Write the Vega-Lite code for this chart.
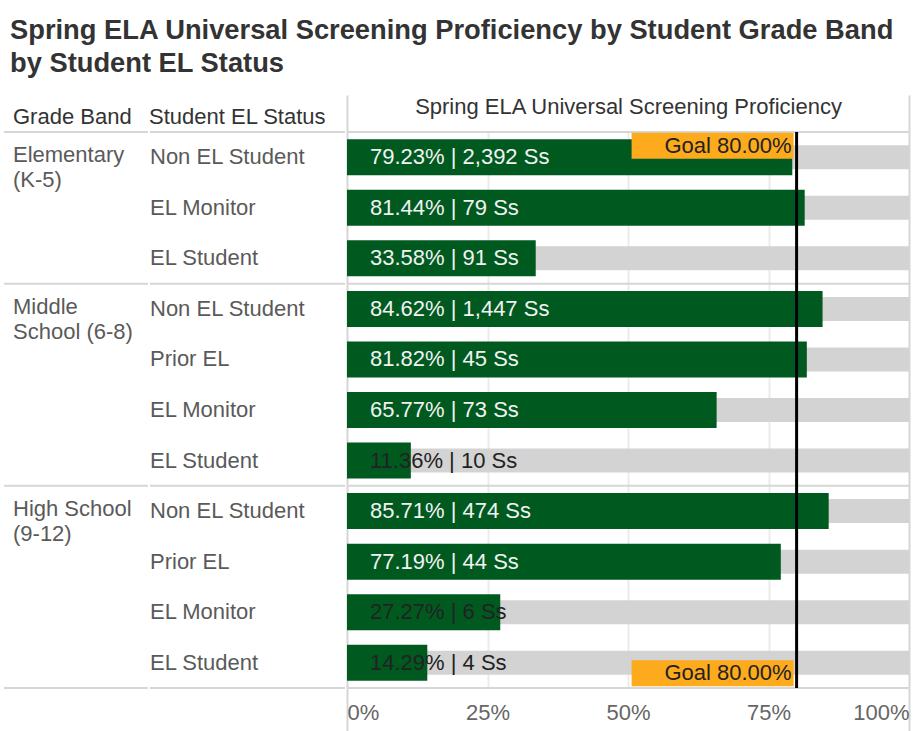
{
  "$schema": "https://vega.github.io/schema/vega-lite/v6.json",
  "padding": {"left": 3, "top": 16, "right": 4, "bottom": 0},
  "background": "white",
  "config": {
    "font": "Liberation Sans",
    "view": {"stroke": null},
    "title": {"font": "Liberation Sans"},
    "axis": {"labelFont": "Liberation Sans", "titleFont": "Liberation Sans"}
  },
  "title": {
    "text": ["Spring ELA Universal Screening Proficiency by Student Grade Band", "by Student EL Status"],
    "anchor": "start",
    "frame": "group",
    "fontSize": 27.3,
    "fontWeight": "bold",
    "color": "#333333",
    "lineHeight": 33,
    "offset": 17,
    "dx": 6
  },
  "data": {
    "values": [
      {"row": 1, "band": "Elementary\n(K-5)", "status": "Non EL Student", "pct": 0.7923, "n": 2392, "label": "79.23% | 2,392 Ss"},
      {"row": 2, "band": "Elementary\n(K-5)", "status": "EL Monitor", "pct": 0.8144, "n": 79, "label": "81.44% | 79 Ss"},
      {"row": 3, "band": "Elementary\n(K-5)", "status": "EL Student", "pct": 0.3358, "n": 91, "label": "33.58% | 91 Ss"},
      {"row": 4, "band": "Middle\nSchool (6-8)", "status": "Non EL Student", "pct": 0.8462, "n": 1447, "label": "84.62% | 1,447 Ss"},
      {"row": 5, "band": "Middle\nSchool (6-8)", "status": "Prior EL", "pct": 0.8182, "n": 45, "label": "81.82% | 45 Ss"},
      {"row": 6, "band": "Middle\nSchool (6-8)", "status": "EL Monitor", "pct": 0.6577, "n": 73, "label": "65.77% | 73 Ss"},
      {"row": 7, "band": "Middle\nSchool (6-8)", "status": "EL Student", "pct": 0.1136, "n": 10, "label": "11.36% | 10 Ss"},
      {"row": 8, "band": "High School\n(9-12)", "status": "Non EL Student", "pct": 0.8571, "n": 474, "label": "85.71% | 474 Ss"},
      {"row": 9, "band": "High School\n(9-12)", "status": "Prior EL", "pct": 0.7719, "n": 44, "label": "77.19% | 44 Ss"},
      {"row": 10, "band": "High School\n(9-12)", "status": "EL Monitor", "pct": 0.2727, "n": 6, "label": "27.27% | 6 Ss"},
      {"row": 11, "band": "High School\n(9-12)", "status": "EL Student", "pct": 0.1429, "n": 4, "label": "14.29% | 4 Ss"}
    ]
  },
  "spacing": 0,
  "hconcat": [
    {
      "width": 144,
      "height": 556,
      "title": {"text": "Grade Band", "anchor": "start", "fontSize": 22, "fontWeight": "normal", "color": "#333333", "offset": 2, "dx": 10},
      "layer": [
        {
          "mark": {"type": "rule", "color": "#d6d6d6", "strokeWidth": 2},
          "transform": [{"filter": "datum.status == 'Non EL Student'"}],
          "encoding": {"y": {"field": "row", "type": "ordinal", "bandPosition": 0, "axis": null, "scale": {"domain": [1,2,3,4,5,6,7,8,9,10,11], "paddingInner": 0, "paddingOuter": 0}}}
        },
        {
          "mark": {"type": "rule", "color": "#d6d6d6", "strokeWidth": 2},
          "transform": [{"filter": "datum.row == 11"}],
          "encoding": {"y": {"field": "row", "type": "ordinal", "bandPosition": 1, "axis": null, "scale": {"domain": [1,2,3,4,5,6,7,8,9,10,11], "paddingInner": 0, "paddingOuter": 0}}}
        },
        {
          "mark": {"type": "text", "align": "left", "baseline": "top", "dx": 9, "dy": -12, "lineBreak": "\n", "lineHeight": 25, "fontSize": 22, "color": "#5a5a5a"},
          "transform": [{"filter": "datum.status == 'Non EL Student'"}],
          "encoding": {
            "y": {"field": "row", "type": "ordinal", "axis": null, "scale": {"domain": [1,2,3,4,5,6,7,8,9,10,11], "paddingInner": 0, "paddingOuter": 0}},
            "x": {"value": 0},
            "text": {"field": "band"}
          }
        }
      ]
    },
    {
      "width": 195,
      "height": 556,
      "title": {"text": "Student EL Status", "anchor": "start", "fontSize": 22, "fontWeight": "normal", "color": "#333333", "offset": 2},
      "layer": [
        {
          "mark": {"type": "rule", "color": "#d6d6d6", "strokeWidth": 2},
          "transform": [{"filter": "datum.status == 'Non EL Student'"}],
          "encoding": {"y": {"field": "row", "type": "ordinal", "bandPosition": 0, "axis": null, "scale": {"domain": [1,2,3,4,5,6,7,8,9,10,11], "paddingInner": 0, "paddingOuter": 0}}}
        },
        {
          "mark": {"type": "rule", "color": "#d6d6d6", "strokeWidth": 2},
          "transform": [{"filter": "datum.row == 11"}],
          "encoding": {"y": {"field": "row", "type": "ordinal", "bandPosition": 1, "axis": null, "scale": {"domain": [1,2,3,4,5,6,7,8,9,10,11], "paddingInner": 0, "paddingOuter": 0}}}
        },
        {
          "mark": {"type": "text", "align": "left", "baseline": "middle", "fontSize": 22, "color": "#5a5a5a"},
          "encoding": {
            "y": {"field": "row", "type": "ordinal", "axis": null, "scale": {"domain": [1,2,3,4,5,6,7,8,9,10,11], "paddingInner": 0, "paddingOuter": 0}},
            "x": {"value": 0},
            "text": {"field": "status"}
          }
        }
      ]
    },
    {
      "width": 562,
      "height": 556,
      "resolve": {"axis": {"x": "independent"}},
      "layer": [
        {
          "mark": {"type": "rule", "color": "#d6d6d6", "strokeWidth": 2},
          "transform": [{"filter": "datum.status == 'Non EL Student'"}],
          "encoding": {"y": {"field": "row", "type": "ordinal", "bandPosition": 0, "axis": null, "scale": {"domain": [1,2,3,4,5,6,7,8,9,10,11], "paddingInner": 0, "paddingOuter": 0}}}
        },
        {
          "mark": {"type": "rule", "color": "#d6d6d6", "strokeWidth": 2},
          "transform": [{"filter": "datum.row == 11"}],
          "encoding": {"y": {"field": "row", "type": "ordinal", "bandPosition": 1, "axis": null, "scale": {"domain": [1,2,3,4,5,6,7,8,9,10,11], "paddingInner": 0, "paddingOuter": 0}}}
        },
        {
          "mark": {"type": "bar", "color": "#d3d3d3", "height": 24},
          "encoding": {
            "y": {"field": "row", "type": "ordinal", "axis": null, "scale": {"domain": [1,2,3,4,5,6,7,8,9,10,11], "paddingInner": 0, "paddingOuter": 0}},
            "x": {
              "datum": 1,
              "type": "quantitative",
              "scale": {"domain": [0, 1], "nice": false},
              "axis": {
                "orient": "top",
                "values": [0, 1],
                "labels": false,
                "grid": false,
                "domain": false,
                "ticks": true,
                "tickSize": 37,
                "tickWidth": 2,
                "tickColor": "#d6d6d6",
                "title": "Spring ELA Universal Screening Proficiency",
                "titleFontSize": 22,
                "titleFontWeight": "normal",
                "titleColor": "#333333",
                "titleY": -26,
                "titleBaseline": "middle"
              }
            },
            "x2": {"datum": 0}
          }
        },
        {
          "mark": {"type": "bar", "color": "#005a20", "height": 36},
          "encoding": {
            "y": {"field": "row", "type": "ordinal", "axis": null, "scale": {"domain": [1,2,3,4,5,6,7,8,9,10,11], "paddingInner": 0, "paddingOuter": 0}},
            "x": {
              "field": "pct",
              "type": "quantitative",
              "scale": {"domain": [0, 1], "nice": false},
              "axis": {
                "orient": "bottom",
                "values": [0, 0.25, 0.5, 0.75, 1],
                "format": ".0%",
                "labelFlush": true,
                "labelFontSize": 22,
                "labelColor": "#666666",
                "domain": false,
                "grid": true,
                "gridWidth": 2,
                "gridColor": {"condition": {"test": "datum.value == 0 || datum.value == 1", "value": "#d6d6d6"}, "value": "#ececec"},
                "tickColor": {"condition": {"test": "datum.value == 0 || datum.value == 1", "value": "#d6d6d6"}, "value": "transparent"},
                "tickWidth": 2,
                "tickSize": 43,
                "labelPadding": -29,
                "title": null
              }
            }
          }
        },
        {
          "mark": {"type": "text", "align": "left", "baseline": "middle", "fontSize": 22, "dx": 23},
          "encoding": {
            "y": {"field": "row", "type": "ordinal", "axis": null, "scale": {"domain": [1,2,3,4,5,6,7,8,9,10,11], "paddingInner": 0, "paddingOuter": 0}},
            "x": {"datum": 0, "type": "quantitative", "axis": null},
            "text": {"field": "label"},
            "color": {"condition": {"test": "datum.pct < 0.3", "value": "#222222"}, "value": "#f2f2f2"}
          }
        },
        {
          "data": {"values": [{"goal": 0.8}]},
          "mark": {"type": "rule", "color": "#000000", "strokeWidth": 3},
          "encoding": {"x": {"field": "goal", "type": "quantitative", "axis": null}}
        },
        {
          "data": {"values": [{"goal": 0.8, "goal_label": "Goal 80.00%", "row": 1}]},
          "mark": {"type": "rect", "color": "#fdaa1c", "height": 26, "xOffset": -165, "x2Offset": -3, "yOffset": -11.5},
          "encoding": {
            "y": {"field": "row", "type": "ordinal", "axis": null, "scale": {"domain": [1,2,3,4,5,6,7,8,9,10,11], "paddingInner": 0, "paddingOuter": 0}},
            "x": {"field": "goal", "type": "quantitative", "axis": null},
            "x2": {"field": "goal"}
          }
        },
        {
          "data": {"values": [{"goal": 0.8, "goal_label": "Goal 80.00%", "row": 1}]},
          "mark": {"type": "text", "align": "right", "baseline": "middle", "fontSize": 22, "color": "#222222", "dx": -5, "dy": -11.5},
          "encoding": {
            "y": {"field": "row", "type": "ordinal", "axis": null, "scale": {"domain": [1,2,3,4,5,6,7,8,9,10,11], "paddingInner": 0, "paddingOuter": 0}},
            "x": {"field": "goal", "type": "quantitative", "axis": null},
            "text": {"field": "goal_label"}
          }
        },
        {
          "data": {"values": [{"goal": 0.8, "goal_label": "Goal 80.00%", "row": 11}]},
          "mark": {"type": "rect", "color": "#fdaa1c", "height": 26, "xOffset": -165, "x2Offset": -3, "yOffset": 10.5},
          "encoding": {
            "y": {"field": "row", "type": "ordinal", "axis": null, "scale": {"domain": [1,2,3,4,5,6,7,8,9,10,11], "paddingInner": 0, "paddingOuter": 0}},
            "x": {"field": "goal", "type": "quantitative", "axis": null},
            "x2": {"field": "goal"}
          }
        },
        {
          "data": {"values": [{"goal": 0.8, "goal_label": "Goal 80.00%", "row": 11}]},
          "mark": {"type": "text", "align": "right", "baseline": "middle", "fontSize": 22, "color": "#222222", "dx": -5, "dy": 10.5},
          "encoding": {
            "y": {"field": "row", "type": "ordinal", "axis": null, "scale": {"domain": [1,2,3,4,5,6,7,8,9,10,11], "paddingInner": 0, "paddingOuter": 0}},
            "x": {"field": "goal", "type": "quantitative", "axis": null},
            "text": {"field": "goal_label"}
          }
        }
      ]
    }
  ]
}
